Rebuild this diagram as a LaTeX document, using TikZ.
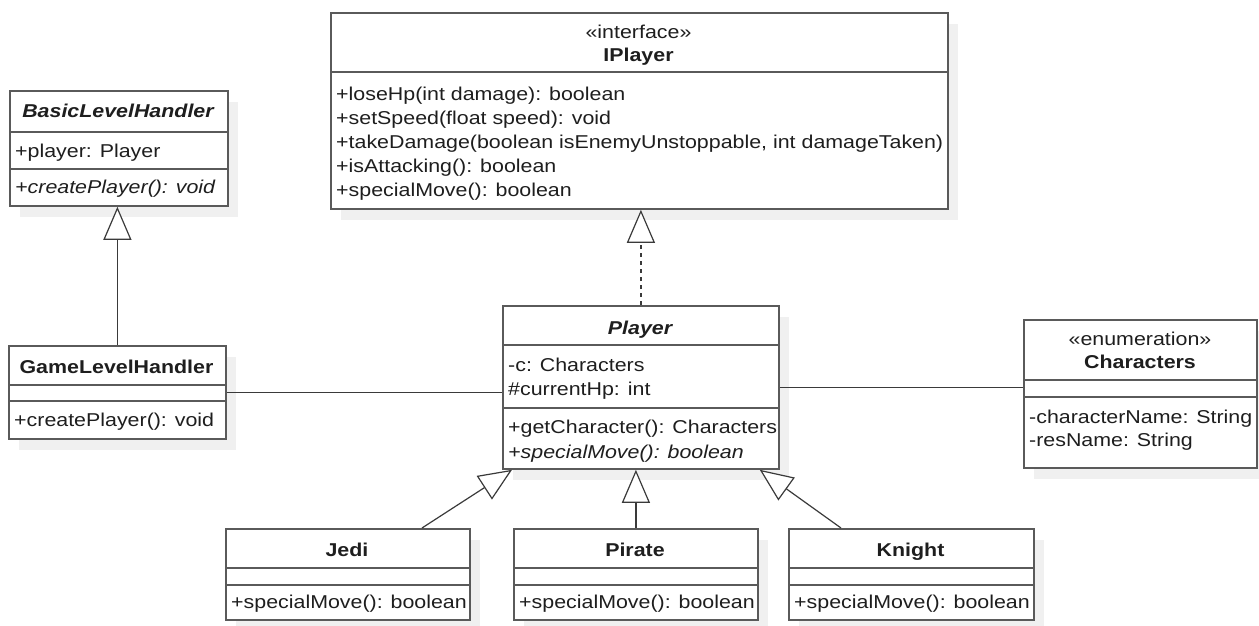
\documentclass[tikz,border=0pt]{standalone}
\usepackage{fontspec}
\setmainfont[FakeStretch=1.15]{Liberation Sans}
\usetikzlibrary{arrows.meta,shadows}
\definecolor{boxline}{HTML}{5A5A5A}
\definecolor{conline}{HTML}{3A3A3A}
\definecolor{txtc}{HTML}{1E1E1E}
\definecolor{shadowc}{HTML}{F0F0F0}
\begin{document}
\begin{tikzpicture}[x=1pt,y=-1pt,
  every node/.style={font=\fontsize{18.6pt}{24pt}\selectfont, text=txtc},
  cls/.style={draw=boxline, fill=white, line width=1.8pt, inner sep=0pt, anchor=north west,
    drop shadow={shadow xshift=10pt, shadow yshift=-11pt, fill=shadowc, opacity=1}},
  sepline/.style={draw=boxline, line width=1.8pt},
  txt/.style={anchor=west, inner sep=0pt, text height=13.4pt, text depth=0pt},
  ttl/.style={anchor=center, inner sep=0pt, text height=13.4pt, text depth=0pt},
  gen/.style={draw=conline, line width=1.2pt, -{Triangle[length=33pt, width=28pt, fill=white]}},
  real/.style={gen, dash pattern=on 4pt off 4pt},
  assoc/.style={draw=conline, line width=1.2pt}
]
\useasboundingbox (0,0) rectangle (1259,626);

% class boxes
\node[cls, minimum width=218pt, minimum height=115pt] (blh) at (9,90) {};
\node[cls, minimum width=617pt, minimum height=196pt] (ipl) at (330,12) {};
\node[cls, minimum width=217pt, minimum height=93pt] (glh) at (8,345) {};
\node[cls, minimum width=276pt, minimum height=163pt] (pl) at (502,305) {};
\node[cls, minimum width=233pt, minimum height=148pt] (chr) at (1023,319) {};
\node[cls, minimum width=244pt, minimum height=91pt] (jedi) at (225,528) {};
\node[cls, minimum width=244pt, minimum height=91pt] (pir) at (513,528) {};
\node[cls, minimum width=245pt, minimum height=91pt] (kni) at (788,528) {};

% separators
\draw[sepline] (blh.west |- 0,132) -- (blh.east |- 0,132);
\draw[sepline] (blh.west |- 0,169) -- (blh.east |- 0,169);
\draw[sepline] (ipl.west |- 0,72) -- (ipl.east |- 0,72);
\draw[sepline] (glh.west |- 0,385) -- (glh.east |- 0,385);
\draw[sepline] (glh.west |- 0,401) -- (glh.east |- 0,401);
\draw[sepline] (pl.west |- 0,345) -- (pl.east |- 0,345);
\draw[sepline] (pl.west |- 0,408) -- (pl.east |- 0,408);
\draw[sepline] (chr.west |- 0,380) -- (chr.east |- 0,380);
\draw[sepline] (chr.west |- 0,397) -- (chr.east |- 0,397);
\foreach \b in {jedi,pir,kni}{
  \draw[sepline] (\b.west |- 0,568) -- (\b.east |- 0,568);
  \draw[sepline] (\b.west |- 0,585) -- (\b.east |- 0,585);
}

% texts
\node[ttl] (blht) at (118,111) {\bfseries\itshape BasicLevelHandler};
\node[txt] (blha) at (15,151) {+player: Player};
\node[txt] (blhm) at (15,187) {\itshape +createPlayer(): void};

\node[ttl] (ipls) at (638.5,32) {«interface»};
\node[ttl] (iplt) at (638.5,55) {\bfseries IPlayer};
\node[txt] (iplm1) at (336,94) {+loseHp(int damage): boolean};
\node[txt] (iplm2) at (336,118) {+setSpeed(float speed): void};
\node[txt] (iplm3) at (336,142) {+takeDamage(boolean isEnemyUnstoppable, int damageTaken)};
\node[txt] (iplm4) at (336,166) {+isAttacking(): boolean};
\node[txt] (iplm5) at (336,190) {+specialMove(): boolean};

\node[ttl] (glht) at (116.5,367) {\bfseries GameLevelHandler};
\node[txt] (glhm) at (14,420) {+createPlayer(): void};

\node[ttl] (plt) at (640,328) {\bfseries\itshape Player};
\node[txt] (pla1) at (508,365) {-c: Characters};
\node[txt] (pla2) at (508,389) {\#currentHp: int};
\node[txt] (plm1) at (508,427) {+getCharacter(): Characters};
\node[txt] (plm2) at (508,452) {\itshape +specialMove(): boolean};

\node[ttl] (chrs) at (1140,339) {«enumeration»};
\node[ttl] (chrt) at (1140,362) {\bfseries Characters};
\node[txt] (chra1) at (1029,417) {-characterName: String};
\node[txt] (chra2) at (1029,440) {-resName: String};

\node[ttl] (jedit) at (347,550) {\bfseries Jedi};
\node[txt] (jedim) at (231,602) {+specialMove(): boolean};
\node[ttl] (pirt) at (635,550) {\bfseries Pirate};
\node[txt] (pirm) at (519,602) {+specialMove(): boolean};
\node[ttl] (knit) at (910.5,550) {\bfseries Knight};
\node[txt] (knim) at (794,602) {+specialMove(): boolean};

% connectors
\draw[gen] (glh.north) -- (glh.north |- blh.south);
\draw[real] (pl.north) -- (pl.north |- ipl.south);
\draw[gen] ([xshift=197pt]jedi.north west) -- ([xshift=10pt]pl.south west);
\draw[gen] (pir.north) -- (pir.north |- pl.south);
\draw[gen] ([xshift=53pt]kni.north west) -- ([xshift=-20pt]pl.south east);
\draw[assoc] (glh.east) -- (glh.east -| pl.west);
\draw[assoc] (pl.east) -- (pl.east -| chr.west);
\end{tikzpicture}
\end{document}
